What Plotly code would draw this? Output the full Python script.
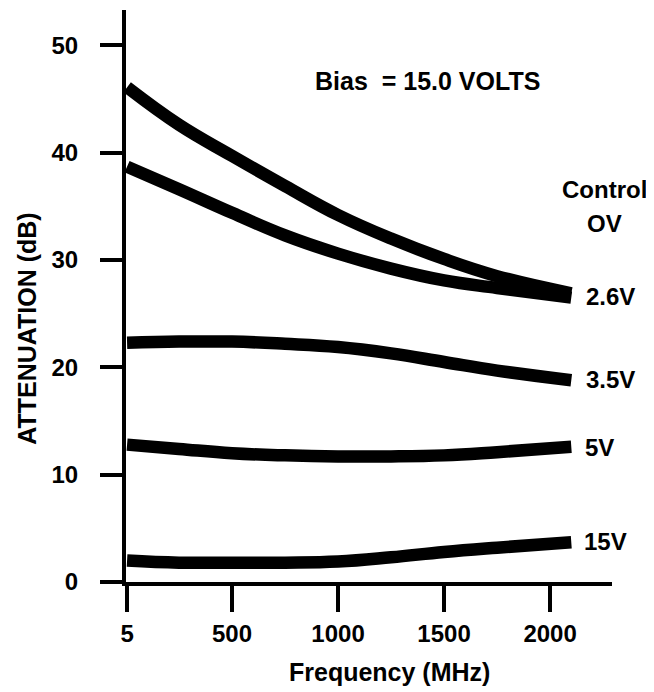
import plotly.graph_objects as go

# Data
freq_mhz = [5, 250, 500, 750, 1000, 1250, 1500, 1750, 2100]
att_0v = [46.1, 42.6, 39.7, 36.9, 34.2, 32.0, 30.1, 28.5, 26.9]
att_2_6v = [38.7, 36.6, 34.4, 32.3, 30.6, 29.2, 28.1, 27.4, 26.5]
att_3_5v = [22.3, 22.4, 22.4, 22.2, 21.9, 21.3, 20.5, 19.7, 18.8]
att_5v = [12.8, 12.4, 12.0, 11.8, 11.7, 11.7, 11.8, 12.1, 12.6]
att_15v = [2.0, 1.8, 1.8, 1.8, 1.9, 2.3, 2.8, 3.2, 3.7]

series = [("OV", att_0v), ("2.6V", att_2_6v), ("3.5V", att_3_5v),
          ("5V", att_5v), ("15V", att_15v)]

x_ticks = [5, 500, 1000, 1500, 2000]
x_tick_labels = ["5", "500", "1000", "1500", "2000"]
y_ticks = [0, 10, 20, 30, 40, 50]
y_tick_labels = ["0", "10", "20", "30", "40", "50"]

FONT = "Liberation Sans, Arial, Helvetica, sans-serif"

fig = go.Figure()
for name, vals in series:
    fig.add_trace(go.Scatter(
        x=freq_mhz, y=vals, mode="lines", name=name,
        line=dict(color="black", width=12.5, shape="spline", smoothing=1.2),
        showlegend=False, hoverinfo="skip"))

base_font = dict(family=FONT, size=24, color="black", weight="bold")

annotations = [
    dict(text="Bias  = 15.0 VOLTS", x=880, y=46.7, xanchor="left", yanchor="middle", size=25),
    dict(text="Control", x=2255, y=36.6, xanchor="center", yanchor="middle", size=24),
    dict(text="OV", x=2255, y=33.4, xanchor="center", yanchor="middle", size=24),
    dict(text="2.6V", x=2160, y=26.6, xanchor="left", yanchor="middle", size=24),
    dict(text="3.5V", x=2160, y=18.9, xanchor="left", yanchor="middle", size=24),
    dict(text="5V", x=2155, y=12.5, xanchor="left", yanchor="middle", size=24),
    dict(text="15V", x=2150, y=3.8, xanchor="left", yanchor="middle", size=24),
]
for a in annotations:
    sz = a.pop("size")
    fig.add_annotation(xref="x", yref="y", showarrow=False,
                       font=dict(base_font, size=sz), **a)

# Axis titles
fig.add_annotation(text="ATTENUATION (dB)", xref="paper", yref="y",
                   x=-99 / 486, y=23.6, textangle=-90, showarrow=False,
                   xanchor="center", yanchor="middle", font=dict(base_font, size=25))
fig.add_annotation(text="Frequency (MHz)", xref="x", yref="paper",
                   x=1245, y=-90 / 572, showarrow=False,
                   xanchor="center", yanchor="middle", font=dict(base_font, size=25))

# The page body adds an 8 px margin; size the figure so the plot area
# lands where it is in the reference.
fig.update_layout(
    width=646, height=684,
    margin=dict(l=118, r=42, t=2, b=110),
    paper_bgcolor="white", plot_bgcolor="white",
    font=base_font,
    xaxis=dict(range=[0, 2292], tickvals=x_ticks, ticktext=x_tick_labels,
               showgrid=False, zeroline=False, showline=True, linewidth=4,
               linecolor="black", ticks="outside", ticklen=26, tickwidth=4,
               tickcolor="black", ticklabelstandoff=1,
               tickfont=dict(base_font, size=24)),
    yaxis=dict(range=[0, 53.3], tickvals=y_ticks, ticktext=y_tick_labels,
               showgrid=False, zeroline=False, showline=True, linewidth=4,
               linecolor="black", ticks="outside", ticklen=22, tickwidth=4,
               tickcolor="black", ticklabelstandoff=17,
               tickfont=dict(base_font, size=24)),
)

fig.write_html("out.html")
